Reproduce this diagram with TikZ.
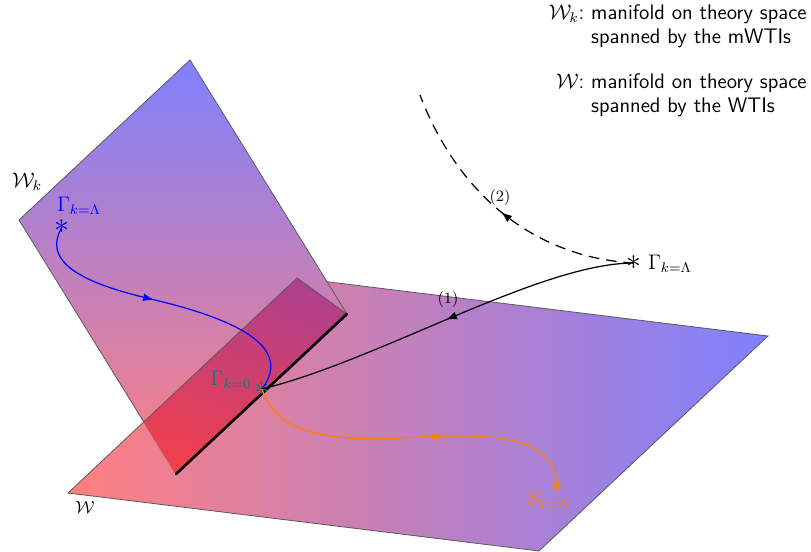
\documentclass[tikz,border=0pt]{standalone}
\usepackage{amsmath}
\usetikzlibrary{arrows.meta,decorations.markings}
\tikzset{
  edge/.style={draw=black!65, line width=0.45pt},
  flow/.style={line width=0.7pt},
  midarrow/.style={postaction={decorate}, decoration={markings,
      mark=at position #1 with {\arrow{Latex[length=6pt,width=4.5pt]}}}},
  starmark/.style={inner sep=0pt, font=\normalsize, scale=1.7},
  lab/.style={inner sep=0pt, font=\large},
  legend/.style={anchor=base east, inner sep=0pt, font=\sffamily\large},
}
\begin{document}
\begin{tikzpicture}[x=0.02cm,y=-0.02cm]
\useasboundingbox (0,0) rectangle (811,551);
% plane W
\coordinate (WA) at (68,493);
\coordinate (WB) at (297,278);
\coordinate (WC) at (768,336);
\coordinate (WD) at (539,551);
% plane W_k
\coordinate (KA) at (19,220);
\coordinate (KB) at (190,60);
\coordinate (KC) at (347,314);
\coordinate (KD) at (176,474);
\coordinate (KX) at (intersection of KA--KD and WA--WB);
\coordinate (dashEnd) at (420,95);

\shade[left color=red!50,right color=blue!50] (WA)--(WB)--(WC)--(WD)--cycle;
\draw[edge] (WA)--(WB)--(WC)--(WD)--cycle;
\shade[top color=blue!50,bottom color=red!50] (KA)--(KB)--(KC)--(KD)--cycle;
\draw[edge] (KD)--(KA)--(KB)--(KC);
\begin{scope}
  \clip (KD)--(KC)--(WB)--(KX)--cycle;
  \shade[left color=red!50,right color=blue!50] (WA)--(WB)--(WC)--(WD)--cycle;
  \shade[top color=blue,bottom color=red,opacity=0.5] (KA)--(KB)--(KC)--(KD)--cycle;
\end{scope}
\draw[edge] (KC)--(WB)--(KX);
\draw[line width=1.5pt, line cap=round] (KD)--(KC);

% points
\node[starmark, text=blue] (starL) at (62,227) {$\ast$};
\node[starmark, text=teal] (star0) at (262,389) {$\ast$};
\node[starmark] (starR) at (634,263) {$\ast$};
\node[starmark, text=orange] (starS) at (557,487) {$\ast$};

% flows
\draw[blue, flow, midarrow=0.45] (starL.center) .. controls (40,265) and (90,285) .. (155,300)
   .. controls (230,318) and (295,345) .. (star0.center);
\draw[flow, midarrow=0.5] (starR.center) .. controls (540,263) and (380,360) .. (star0.center);
\draw[flow, dash pattern=on 6pt off 4pt, midarrow=0.5] (starR.center) .. controls (540,258) and (460,200) .. (dashEnd);
\draw[orange, flow, midarrow=0.46] (starS.center) .. controls (555,430) and (480,434) .. (400,438)
   .. controls (320,442) and (275,430) .. (star0.center);

% labels
\node[lab, text=blue] (labL) at (79,206) {$\Gamma_{k=\Lambda}$};
\node[lab, text=teal] (lab0) at (231,380) {$\Gamma_{k=0}$};
\node[lab] (labR) at (670,264) {$\Gamma_{k=\Lambda}$};
\node[lab, text=orange] (labS) at (548,500) {$S_{k=\Lambda}$};
\node[font=\small, inner sep=0pt] (lab1) at (448,300) {(1)};
\node[font=\small, inner sep=0pt] (lab2) at (500,198) {(2)};
\node[font=\large, inner sep=0pt] (lWk) at (27,182) {$\mathcal{W}_k$};
\node[inner sep=0pt] (lW) at (85,507) {$\mathcal{W}$};

% legend
\node[legend] (leg1) at (807,19) {\begin{tabular}[t]{@{}r@{\ }l@{}}$\mathcal{W}_k$: & manifold on theory space\\ & spanned by the mWTIs\end{tabular}};
\node[legend] (leg2) at (807,88) {\begin{tabular}[t]{@{}r@{\ }l@{}}$\mathcal{W}$: & manifold on theory space\\ & spanned by the WTIs\end{tabular}};
\end{tikzpicture}
\end{document}
